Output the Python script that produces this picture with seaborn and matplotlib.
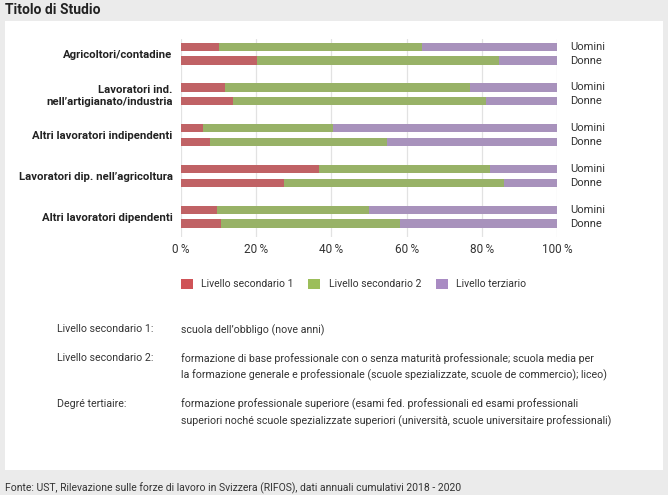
import pandas as pd
import seaborn as sns
import matplotlib.pyplot as plt
from matplotlib.patches import Patch, Rectangle

# Data (percent)
categorie = [
    "Agricoltori/contadine",
    "Lavoratori ind.\nnell’artigianato/industria",
    "Altri lavoratori indipendenti",
    "Lavoratori dip. nell’agricoltura",
    "Altri lavoratori dipendenti",
]
sessi = ["Uomini", "Donne"]

sec1_uomini = [10.0, 11.8, 5.9, 36.7, 9.5]
sec2_uomini = [54.1, 65.0, 34.5, 45.4, 40.4]
terz_uomini = [35.9, 23.2, 59.6, 17.9, 50.1]

sec1_donne = [20.1, 13.7, 7.6, 27.5, 10.6]
sec2_donne = [64.6, 67.3, 47.2, 58.3, 47.6]
terz_donne = [15.3, 19.0, 45.2, 14.2, 41.8]

serie = ["Livello secondario 1", "Livello secondario 2", "Livello terziario"]
colori = ["#cf5357", "#9cbe5a", "#a98bc3"]
xticks = [0, 20, 40, 60, 80, 100]

note_etichette = ["Livello secondario 1:", "Livello secondario 2:", "Degré tertiaire:"]
note_testi = [
    "scuola dell’obbligo (nove anni)",
    "formazione di base professionale con o senza maturità professionale; scuola media per\n"
    "la formazione generale e professionale (scuole spezializzate, scuole de commercio); liceo)",
    "formazione professionale superiore (esami fed. professionali ed esami professionali\n"
    "superiori noché scuole spezializzate superiori (università, scuole universitaire professionali)",
]

# Long table
rows = []
for i, cat in enumerate(categorie):
    rows.append([cat, "Uomini", sec1_uomini[i], sec2_uomini[i], terz_uomini[i]])
    rows.append([cat, "Donne", sec1_donne[i], sec2_donne[i], terz_donne[i]])
df = pd.DataFrame(rows, columns=["categoria", "sesso", "s1", "s2", "s3"])
df["cum1"] = df["s1"]
df["cum2"] = df["s1"] + df["s2"]
df["cum3"] = df["s1"] + df["s2"] + df["s3"]

sns.set_theme(style="white")
plt.rcParams["font.family"] = ["Roboto", "DejaVu Sans"]

W, H = 668, 495
fig = plt.figure(figsize=(W / 100, H / 100), dpi=100)
fig.patch.set_facecolor("#ebebeb")
# white panel behind everything
fig.patches.append(Rectangle((5 / W, 1 - 470 / H), 658 / W, 449 / H,
                             transform=fig.transFigure, facecolor="white",
                             edgecolor="none", zorder=-10))

ax = fig.add_axes([181 / W, 1 - 237 / H, 376 / W, 198 / H])
ax.set_facecolor("none")

# stacked bars: draw the cumulative totals back to front
for col, c in zip(["cum3", "cum2", "cum1"], colori[::-1]):
    sns.barplot(data=df, y="categoria", x=col, hue="sesso", hue_order=sessi,
                orient="h", palette=[c, c], width=0.68, gap=0.4,
                errorbar=None, legend=False, linewidth=0, ax=ax)

ax.set_xlim(0, 100)
ax.set_ylim(4.5, -0.36)
ax.set_xticks(xticks)
ax.set_xticklabels([f"{t}\u2009%" for t in xticks], fontsize=8.5, color="#333333")
ax.tick_params(axis="x", length=0, pad=4)
ax.tick_params(axis="y", length=0, pad=6)
ax.set_yticks(range(len(categorie)))
ax.set_yticklabels(categorie, fontsize=8.2, fontweight="bold", color="#222222")
ax.set_xlabel("")
ax.set_ylabel("")
ax.grid(axis="x", color="#e2e2e2", linewidth=0.9)
ax.set_axisbelow(True)
sns.despine(ax=ax, left=True, bottom=True)

for i in range(len(categorie)):
    ax.text(103.4, i - 0.17, "Uomini", va="center", fontsize=8, color="#333333")
    ax.text(103.4, i + 0.17, "Donne", va="center", fontsize=8, color="#333333")

# legend
handles = [Patch(facecolor=c, edgecolor="none") for c in colori]
fig.legend(handles, serie, loc="center left", bbox_to_anchor=(181 / W, 1 - 284 / H),
           ncol=3, frameon=False, fontsize=7.5, handlelength=1.15, handleheight=1.15,
           handletextpad=0.8, columnspacing=1.4, borderpad=0, borderaxespad=0,
           labelcolor="#333333")

# notes
note_top = [324, 353, 399]
for lab, txt, y in zip(note_etichette, note_testi, note_top):
    fig.text(57 / W, 1 - y / H, lab, fontsize=7.7, color="#333333", va="top")
    fig.text(181 / W, 1 - y / H, txt, fontsize=7.7, color="#333333", va="top",
             linespacing=1.6)

fig.text(5 / W, 1 - 10 / H, "Titolo di Studio", fontsize=10, fontweight="bold",
         va="center", color="#222222")
fig.text(5 / W, 1 - 488 / H,
         "Fonte: UST, Rilevazione sulle forze di lavoro in Svizzera (RIFOS), dati annuali cumulativi 2018 - 2020",
         fontsize=7.5, va="center", color="#333333")

fig.savefig("out.png", dpi=100, facecolor=fig.get_facecolor())
